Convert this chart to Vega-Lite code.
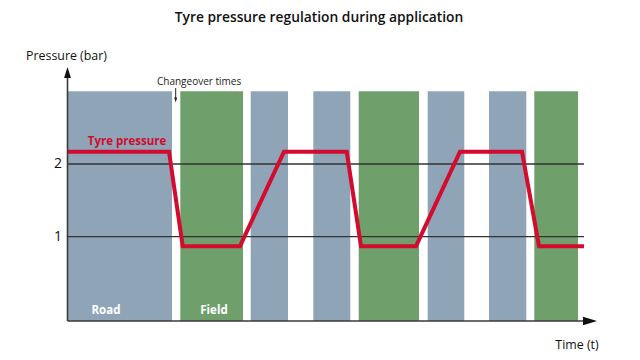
{
  "$schema": "https://vega.github.io/schema/vega-lite/v6.json",
  "width": 640,
  "height": 360,
  "autosize": "none",
  "padding": 0,
  "background": "white",
  "config": {"view": {"stroke": null}, "text": {"font": "Open Sans"}},
  "datasets": {
    "bars": [
      {"segment": "Road", "start": 0, "end": 10.45},
      {"segment": "Field", "start": 11.28, "end": 17.55},
      {"segment": "Road", "start": 18.32, "end": 22.05},
      {"segment": "Road", "start": 24.58, "end": 28.28},
      {"segment": "Field", "start": 29.12, "end": 35.15},
      {"segment": "Road", "start": 36.02, "end": 39.68},
      {"segment": "Road", "start": 42.15, "end": 45.88},
      {"segment": "Field", "start": 46.68, "end": 51.05}
    ],
    "pressure": [
      {"t": 0, "bar": 2.17},
      {"t": 10.15, "bar": 2.17},
      {"t": 11.52, "bar": 0.87},
      {"t": 17.25, "bar": 0.87},
      {"t": 21.65, "bar": 2.17},
      {"t": 27.92, "bar": 2.17},
      {"t": 29.35, "bar": 0.87},
      {"t": 34.85, "bar": 0.87},
      {"t": 39.25, "bar": 2.17},
      {"t": 45.45, "bar": 2.17},
      {"t": 47.15, "bar": 0.87},
      {"t": 51.65, "bar": 0.87}
    ],
    "levels": [{"level": 1}, {"level": 2}],
    "one": [{"k": 1}]
  },
  "encoding": {
    "x": {"type": "quantitative", "scale": {"domain": [-6.75, 57.25], "nice": false, "zero": false}, "axis": null},
    "y": {"type": "quantitative", "scale": {"domain": [-0.696, 4.256], "nice": false, "zero": false}, "axis": null}
  },
  "layer": [
    {
      "data": {"name": "bars"},
      "mark": {"type": "rect"},
      "encoding": {
        "x": {"field": "start", "type": "quantitative"},
        "x2": {"field": "end"},
        "y": {"datum": 3},
        "y2": {"datum": -0.16},
        "color": {"field": "segment", "type": "nominal", "scale": {"domain": ["Road", "Field"], "range": ["#8fa4b7", "#6fa06c"]}, "legend": null}
      }
    },
    {
      "data": {"name": "levels"},
      "mark": {"type": "rule", "stroke": "#333333", "strokeWidth": 1.3},
      "encoding": {
        "y": {"field": "level", "type": "quantitative"},
        "x": {"datum": 0},
        "x2": {"datum": 51.65}
      }
    },
    {
      "data": {"name": "pressure"},
      "mark": {"type": "line", "stroke": "#d20b2f", "strokeWidth": 4, "strokeJoin": "miter"},
      "encoding": {
        "x": {"field": "t", "type": "quantitative"},
        "y": {"field": "bar", "type": "quantitative"}
      }
    },
    {
      "data": {"name": "one"},
      "mark": {"type": "rule", "stroke": "#3a3a3a", "strokeWidth": 1.6},
      "encoding": {"x": {"datum": 0}, "x2": {"datum": 51.8}, "y": {"datum": -0.16}}
    },
    {
      "data": {"name": "one"},
      "mark": {"type": "rule", "stroke": "#3a3a3a", "strokeWidth": 1.6},
      "encoding": {"x": {"datum": 0}, "y": {"datum": -0.16}, "y2": {"datum": 3.2}}
    },
    {
      "data": {"name": "one"},
      "mark": {"type": "point", "shape": "M-1,-0.62L1,0L-1,0.62Z", "size": 196, "filled": true, "fill": "#111111", "opacity": 1, "strokeWidth": 0},
      "encoding": {"x": {"datum": 52.25}, "y": {"datum": -0.16}}
    },
    {
      "data": {"name": "one"},
      "mark": {"type": "point", "shape": "M0,-1L0.62,1L-0.62,1Z", "size": 121, "filled": true, "fill": "#111111", "opacity": 1, "strokeWidth": 0},
      "encoding": {"x": {"datum": 0}, "y": {"datum": 3.26}}
    },
    {
      "data": {"name": "one"},
      "mark": {"type": "rule", "stroke": "#222222", "strokeWidth": 1},
      "encoding": {"x": {"datum": 10.82}, "y": {"datum": 3.045}, "y2": {"datum": 2.89}}
    },
    {
      "data": {"name": "one"},
      "mark": {"type": "point", "shape": "M-0.6,-1L0.6,-1L0,1Z", "size": 25, "filled": true, "fill": "#222222", "opacity": 1, "strokeWidth": 0},
      "encoding": {"x": {"datum": 10.82}, "y": {"datum": 2.88}}
    },
    {
      "data": {"name": "one"},
      "mark": {"type": "text", "text": "Tyre pressure regulation during application", "fontSize": 13.8, "fontWeight": 600, "align": "center", "baseline": "middle", "fill": "#111111"},
      "encoding": {"x": {"datum": 25.15}, "y": {"datum": 4.008}}
    },
    {
      "data": {"name": "one"},
      "mark": {"type": "text", "text": "Pressure (bar)", "fontSize": 12.4, "align": "left", "baseline": "middle", "fill": "#111111"},
      "encoding": {"x": {"datum": -4.15}, "y": {"datum": 3.49}}
    },
    {
      "data": {"name": "one"},
      "mark": {"type": "text", "text": "Changeover times", "fontSize": 10, "align": "left", "baseline": "middle", "fill": "#222222"},
      "encoding": {"x": {"datum": 8.95}, "y": {"datum": 3.13}}
    },
    {
      "data": {"name": "one"},
      "mark": {"type": "text", "text": "Tyre pressure", "fontSize": 11.5, "fontWeight": "bold", "align": "center", "baseline": "middle", "fill": "#d20b2f"},
      "encoding": {"x": {"datum": 5.95}, "y": {"datum": 2.307}}
    },
    {
      "data": {"name": "levels"},
      "mark": {"type": "text", "fontSize": 14, "align": "center", "baseline": "middle", "fill": "#111111"},
      "encoding": {"x": {"datum": -0.95}, "y": {"field": "level", "type": "quantitative"}, "text": {"field": "level", "type": "quantitative"}}
    },
    {
      "data": {"name": "one"},
      "mark": {"type": "text", "text": "Road", "fontSize": 11.5, "fontWeight": "bold", "align": "center", "baseline": "middle", "fill": "#ffffff"},
      "encoding": {"x": {"datum": 3.85}, "y": {"datum": -0.018}}
    },
    {
      "data": {"name": "one"},
      "mark": {"type": "text", "text": "Field", "fontSize": 11.5, "fontWeight": "bold", "align": "center", "baseline": "middle", "fill": "#ffffff"},
      "encoding": {"x": {"datum": 14.65}, "y": {"datum": -0.018}}
    },
    {
      "data": {"name": "one"},
      "mark": {"type": "text", "text": "Time (t)", "fontSize": 12.4, "align": "center", "baseline": "middle", "fill": "#111111"},
      "encoding": {"x": {"datum": 50.95}, "y": {"datum": -0.49}}
    }
  ]
}
